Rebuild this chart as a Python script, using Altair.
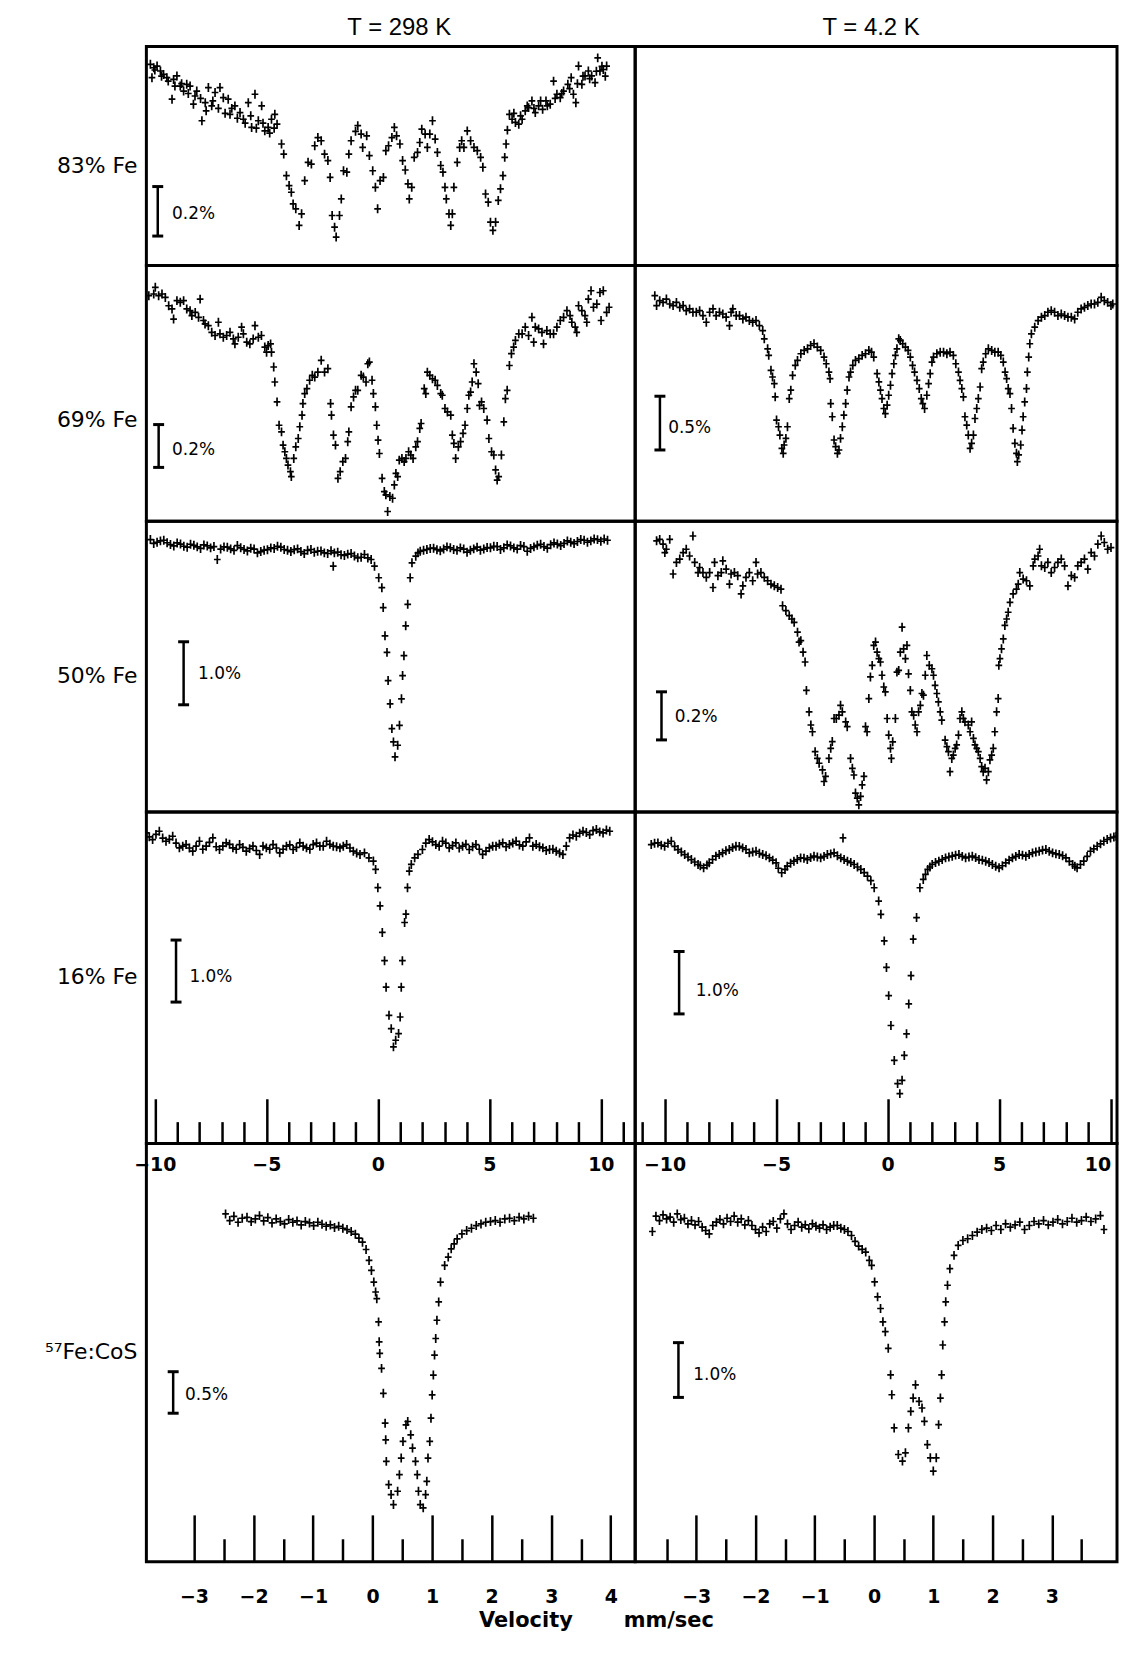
import altair as alt
import pandas as pd

# ---------------- layout (px) ----------------
LAB_W, L_W, R_W = 138, 491, 484
TITLE_H, BOT_H = 34, 70
ROW_H = [220, 257, 292, 333, 420]

# ---------------- velocity domains (mm/s) ----------------
XD_L = [-10.38, 11.54]
XD_R = [-11.32, 10.29]
XD5_L = [-3.80, 4.41]
XD5_R = [-4.03, 4.10]

# ---------------- spectra: (velocity mm/s, relative transmission change %) ----------------
S83_298 = [(-10.20,-0.072),(-10.05,-0.086),(-10.13,-0.126),(-9.90,-0.079),(-9.75,-0.099),(-9.61,-0.113),(-9.46,-0.126),(-9.23,-0.213),(-9.16,-0.133),(-9.01,-0.119),
(-8.86,-0.160),(-8.71,-0.180),(-8.57,-0.153),(-8.42,-0.160),(-8.27,-0.233),(-8.12,-0.180),(-7.89,-0.300),(-7.74,-0.227),(-7.60,-0.166),(-7.45,-0.240),
(-7.30,-0.186),(-7.08,-0.166),(-6.93,-0.207),(-6.71,-0.213),(-6.63,-0.274),(-6.41,-0.240),(-6.18,-0.267),(-6.03,-0.294),(-5.81,-0.227),(-5.66,-0.327),
(-5.51,-0.193),(-5.36,-0.300),(-5.21,-0.240),(-5.07,-0.341),(-4.92,-0.327),(-4.77,-0.294),(-4.62,-0.274),(-4.52,-0.314),(-4.32,-0.394),(-4.22,-0.435),
(-4.10,-0.522),(-3.98,-0.562),(-3.88,-0.589),(-3.80,-0.636),(-3.68,-0.656),(-3.53,-0.723),(-3.42,-0.676),(-3.28,-0.542),(-3.13,-0.468),(-2.98,-0.475),
(-2.83,-0.401),(-2.69,-0.368),(-2.54,-0.381),(-2.39,-0.435),(-2.24,-0.461),(-2.14,-0.529),(-2.05,-0.683),(-1.94,-0.730),(-1.87,-0.770),(-1.72,-0.683),
(-1.64,-0.616),(-1.54,-0.502),(-1.39,-0.508),(-1.30,-0.435),(-1.20,-0.381),(-1.00,-0.343),(-0.90,-0.320),(-0.75,-0.354),(-0.68,-0.408),(-0.50,-0.361),
(-0.38,-0.441),(-0.23,-0.502),(-0.11,-0.569),(-0.01,-0.656),(0.10,-0.542),(0.25,-0.529),(0.36,-0.421),(0.48,-0.401),(0.63,-0.368),(0.74,-0.327),
(0.84,-0.361),(0.99,-0.394),(1.11,-0.461),(1.23,-0.499),(1.35,-0.555),(1.41,-0.616),(1.52,-0.569),(1.63,-0.448),(1.78,-0.428),(1.88,-0.388),
(1.97,-0.334),(2.12,-0.354),(2.22,-0.408),(2.33,-0.354),(2.45,-0.300),(2.57,-0.374),(2.67,-0.428),(2.82,-0.481),(2.92,-0.508),(3.01,-0.569),
(3.07,-0.616),(3.19,-0.676),(3.27,-0.723),(3.34,-0.676),(3.41,-0.569),(3.56,-0.468),(3.67,-0.408),(3.76,-0.381),(3.86,-0.408),(4.01,-0.341),
(4.16,-0.381),(4.31,-0.408),(4.46,-0.421),(4.61,-0.448),(4.71,-0.488),(4.83,-0.596),(4.95,-0.629),(5.05,-0.710),(5.16,-0.743),(5.28,-0.710),
(5.40,-0.622),(5.50,-0.575),(5.61,-0.522),(5.69,-0.448),(5.75,-0.394),(5.81,-0.338),(5.90,-0.274),(6.02,-0.294),(6.17,-0.307),(6.32,-0.314),
(6.47,-0.294),(6.61,-0.260),(6.76,-0.247),(6.91,-0.220),(7.06,-0.267),(7.21,-0.240),(7.39,-0.254),(7.54,-0.220),(7.73,-0.233),(7.88,-0.140),
(8.03,-0.193),(8.18,-0.207),(8.33,-0.180),(8.52,-0.153),(8.67,-0.126),(8.77,-0.193),(8.88,-0.227),(9.00,-0.079),(9.15,-0.153),(9.29,-0.119),
(9.44,-0.099),(9.59,-0.119),(9.74,-0.146),(9.86,-0.046),(9.96,-0.099),(10.11,-0.093),(10.26,-0.079),
(-10.0,-0.095),(-9.7,-0.120),(-9.4,-0.140),(-9.1,-0.160),(-8.8,-0.150),(-8.5,-0.190),(-8.2,-0.200),(-7.95,-0.210),(-7.7,-0.260),(-7.4,-0.220),
(-7.15,-0.250),(-6.85,-0.270),(-6.55,-0.250),(-6.3,-0.290),(-5.95,-0.310),(-5.7,-0.280),(-5.45,-0.330),(-5.15,-0.310),(-4.85,-0.350),(-4.65,-0.330),
(6.1,-0.270),(6.4,-0.280),(6.7,-0.240),(7.0,-0.250),(7.3,-0.220),(7.6,-0.240),(7.95,-0.210),(8.25,-0.190),(8.6,-0.170),(8.95,-0.150),
(9.2,-0.120),(9.5,-0.130),(9.8,-0.100),(10.05,-0.080),(10.2,-0.120)]

S69_298 = [(-10.27,-0.141),(-10.05,-0.133),(-9.98,-0.102),(-9.83,-0.141),(-9.68,-0.133),(-9.53,-0.149),(-9.38,-0.188),(-9.23,-0.203),(-9.16,-0.250),(-9.01,-0.164),
(-8.86,-0.172),(-8.71,-0.164),(-8.57,-0.203),(-8.42,-0.211),(-8.34,-0.234),(-8.19,-0.219),(-8.04,-0.242),(-7.97,-0.157),(-7.82,-0.257),(-7.75,-0.273),
(-7.60,-0.281),(-7.45,-0.312),(-7.30,-0.327),(-7.15,-0.265),(-7.08,-0.319),(-6.93,-0.335),(-6.78,-0.327),(-6.63,-0.312),(-6.48,-0.343),(-6.41,-0.366),
(-6.26,-0.335),(-6.11,-0.288),(-6.03,-0.319),(-5.88,-0.358),(-5.74,-0.366),(-5.59,-0.343),(-5.51,-0.281),(-5.36,-0.335),(-5.22,-0.327),(-5.07,-0.381),
(-4.99,-0.405),(-4.92,-0.374),(-4.81,-0.366),(-4.77,-0.405),(-4.67,-0.474),(-4.62,-0.544),(-4.52,-0.637),(-4.43,-0.746),(-4.32,-0.777),(-4.25,-0.839),
(-4.17,-0.870),(-4.10,-0.901),(-4.03,-0.932),(-3.92,-0.963),(-3.88,-0.986),(-3.77,-0.901),(-3.68,-0.847),(-3.57,-0.808),(-3.50,-0.753),(-3.40,-0.699),
(-3.36,-0.645),(-3.28,-0.598),(-3.18,-0.575),(-3.06,-0.536),(-2.94,-0.513),(-2.83,-0.521),(-2.69,-0.498),(-2.54,-0.443),(-2.39,-0.498),(-2.24,-0.482),
(-2.12,-0.645),(-2.08,-0.699),(-1.99,-0.792),(-1.90,-0.839),(-1.79,-0.994),(-1.69,-0.963),(-1.57,-0.916),(-1.45,-0.901),(-1.35,-0.823),(-1.30,-0.777),
(-1.20,-0.660),(-1.09,-0.614),(-1.00,-0.583),(-0.90,-0.583),(-0.75,-0.513),(-0.65,-0.521),(-0.53,-0.544),(-0.45,-0.459),(-0.38,-0.451),(-0.26,-0.536),
(-0.20,-0.598),(-0.11,-0.660),(-0.05,-0.746),(0.01,-0.816),(0.07,-0.878),(0.19,-0.994),(0.29,-1.056),(0.36,-1.071),(0.44,-1.149),(0.54,-1.079),
(0.66,-1.087),(0.74,-1.025),(0.81,-0.971),(0.89,-0.986),(0.96,-0.909),(1.08,-0.901),(1.18,-0.916),(1.26,-0.901),(1.38,-0.870),(1.48,-0.885),
(1.58,-0.901),(1.70,-0.847),(1.78,-0.823),(1.88,-0.761),(1.94,-0.738),(2.08,-0.575),(2.15,-0.598),(2.22,-0.498),(2.33,-0.513),(2.45,-0.529),
(2.57,-0.536),(2.67,-0.560),(2.82,-0.598),(2.89,-0.606),(3.01,-0.668),(3.12,-0.684),(3.27,-0.699),(3.34,-0.792),(3.41,-0.831),(3.49,-0.901),
(3.61,-0.847),(3.71,-0.823),(3.82,-0.784),(3.91,-0.746),(4.01,-0.668),(4.08,-0.606),(4.16,-0.591),(4.23,-0.544),(4.31,-0.459),(4.41,-0.498),
(4.50,-0.552),(4.56,-0.653),(4.65,-0.637),(4.75,-0.668),(4.90,-0.722),(4.98,-0.808),(5.10,-0.870),(5.20,-0.885),(5.28,-0.955),(5.35,-1.002),
(5.42,-0.986),(5.54,-0.885),(5.65,-0.730),(5.72,-0.622),(5.80,-0.583),(5.90,-0.467),(5.99,-0.412),(6.09,-0.381),(6.17,-0.350),(6.32,-0.319),
(6.47,-0.319),(6.61,-0.288),(6.76,-0.327),(6.91,-0.242),(6.99,-0.358),(7.06,-0.288),(7.21,-0.296),(7.36,-0.312),(7.43,-0.366),(7.58,-0.304),
(7.73,-0.319),(7.88,-0.319),(8.03,-0.288),(8.18,-0.257),(8.33,-0.242),(8.48,-0.211),(8.62,-0.234),(8.70,-0.265),(8.85,-0.288),(8.92,-0.312),
(9.00,-0.188),(9.15,-0.211),(9.29,-0.234),(9.37,-0.265),(9.44,-0.157),(9.56,-0.118),(9.67,-0.195),(9.82,-0.180),(9.96,-0.126),(10.01,-0.257),
(10.11,-0.118),(10.26,-0.219),(10.37,-0.195)]

S69_4K = [(-10.44,-0.281),(-10.36,-0.373),(-10.22,-0.327),(-10.07,-0.343),(-9.92,-0.312),(-9.77,-0.358),(-9.62,-0.373),(-9.47,-0.343),(-9.32,-0.389),(-9.17,-0.373),
(-9.03,-0.420),(-8.88,-0.404),(-8.73,-0.435),(-8.58,-0.435),(-8.43,-0.420),(-8.28,-0.466),(-8.13,-0.528),(-7.98,-0.435),(-7.83,-0.404),(-7.69,-0.466),
(-7.54,-0.435),(-7.39,-0.451),(-7.24,-0.481),(-7.09,-0.559),(-7.02,-0.435),(-6.94,-0.404),(-6.79,-0.466),(-6.64,-0.466),(-6.49,-0.497),(-6.35,-0.481),
(-6.20,-0.512),(-6.05,-0.528),(-5.90,-0.512),(-5.75,-0.559),(-5.60,-0.605),(-5.53,-0.682),(-5.38,-0.775),(-5.33,-0.836),(-5.23,-0.975),(-5.16,-1.037),
(-5.08,-1.099),(-5.04,-1.222),(-4.98,-1.438),(-4.89,-1.500),(-4.83,-1.577),(-4.74,-1.701),(-4.68,-1.747),(-4.64,-1.670),(-4.56,-1.608),(-4.49,-1.500),
(-4.41,-1.238),(-4.34,-1.160),(-4.26,-1.022),(-4.14,-0.929),(-4.04,-0.883),(-3.89,-0.821),(-3.74,-0.790),(-3.59,-0.775),(-3.45,-0.744),(-3.30,-0.728),
(-3.15,-0.759),(-3.00,-0.790),(-2.85,-0.852),(-2.75,-0.914),(-2.63,-0.991),(-2.58,-1.052),(-2.55,-1.284),(-2.48,-1.407),(-2.40,-1.623),(-2.33,-1.685),
(-2.25,-1.747),(-2.18,-1.716),(-2.11,-1.608),(-2.03,-1.500),(-1.96,-1.392),(-1.88,-1.284),(-1.81,-1.160),(-1.73,-1.037),(-1.66,-0.991),(-1.56,-0.929),
(-1.44,-0.883),(-1.29,-0.867),(-1.14,-0.836),(-0.99,-0.821),(-0.84,-0.790),(-0.72,-0.806),(-0.62,-0.852),(-0.47,-1.006),(-0.39,-1.083),(-0.32,-1.160),
(-0.25,-1.238),(-0.17,-1.330),(-0.10,-1.377),(-0.02,-1.299),(0.05,-1.207),(0.13,-1.114),(0.20,-1.006),(0.28,-0.914),(0.35,-0.836),(0.42,-0.775),
(0.50,-0.682),(0.57,-0.698),(0.68,-0.728),(0.80,-0.759),(0.92,-0.790),(1.02,-0.852),(1.12,-0.929),(1.21,-0.991),(1.32,-1.068),(1.42,-1.145),
(1.51,-1.238),(1.58,-1.284),(1.66,-1.330),(1.76,-1.207),(1.84,-1.099),(1.91,-1.006),(1.99,-0.898),(2.06,-0.852),(2.21,-0.821),(2.36,-0.806),
(2.51,-0.806),(2.66,-0.821),(2.80,-0.806),(2.95,-0.836),(3.06,-0.914),(3.18,-0.991),(3.25,-1.068),(3.33,-1.145),(3.40,-1.222),(3.47,-1.407),
(3.55,-1.485),(3.62,-1.577),(3.70,-1.701),(3.77,-1.654),(3.85,-1.577),(3.92,-1.423),(4.00,-1.330),(4.07,-1.238),(4.15,-1.130),(4.22,-0.960),
(4.29,-0.898),(4.40,-0.821),(4.52,-0.775),(4.67,-0.790),(4.81,-0.806),(4.96,-0.806),(5.08,-0.836),(5.19,-0.898),(5.27,-0.991),(5.34,-1.052),
(5.41,-1.145),(5.49,-1.191),(5.56,-1.330),(5.63,-1.515),(5.71,-1.654),(5.78,-1.747),(5.82,-1.824),(5.88,-1.762),(5.97,-1.670),(6.03,-1.531),
(6.08,-1.407),(6.15,-1.269),(6.23,-1.145),(6.27,-0.991),(6.33,-0.852),(6.38,-0.728),(6.45,-0.636),(6.60,-0.574),(6.75,-0.512),(6.90,-0.481),
(7.05,-0.466),(7.19,-0.435),(7.34,-0.420),(7.49,-0.435),(7.64,-0.466),(7.79,-0.451),(7.94,-0.466),(8.09,-0.481),(8.24,-0.481),(8.39,-0.497),
(8.53,-0.435),(8.68,-0.404),(8.83,-0.389),(8.98,-0.373),(9.13,-0.358),(9.28,-0.358),(9.43,-0.343),(9.58,-0.296),(9.72,-0.327),(9.87,-0.343),
(10.02,-0.373),(10.10,-0.358)]

S50_298 = [(-10.2,-0.289),(-9.9,-0.332),(-9.6,-0.300),(-9.3,-0.368),(-9.0,-0.342),(-8.7,-0.395),(-8.4,-0.363),(-8.1,-0.405),(-7.8,-0.374),(-7.5,-0.421),
(-7.2,-0.605),(-6.9,-0.405),(-6.6,-0.437),(-6.3,-0.384),(-6.0,-0.447),(-5.7,-0.426),(-5.4,-0.500),(-5.1,-0.458),(-4.8,-0.421),(-4.5,-0.395),
(-4.2,-0.447),(-3.9,-0.479),(-3.6,-0.437),(-3.3,-0.511),(-3.0,-0.447),(-2.7,-0.474),(-2.4,-0.500),(-2.1,-0.468),(-2.0,-0.711),(-1.8,-0.489),
(-1.5,-0.542),(-1.2,-0.511),(-0.9,-0.579),(-0.6,-0.526),(-0.3,-0.605),(-0.15,-0.711),(0.04,-0.895),(0.18,-1.053),(0.24,-1.368),(0.32,-1.816),
(0.41,-2.079),(0.46,-2.526),(0.55,-2.895),(0.63,-3.289),(0.70,-3.500),(0.77,-3.737),(0.89,-3.553),(0.97,-3.237),(1.06,-2.816),(1.11,-2.447),
(1.17,-2.132),(1.25,-1.658),(1.34,-1.316),(1.45,-0.895),(1.53,-0.658),(1.7,-0.553),(1.9,-0.474),(2.2,-0.447),(2.5,-0.426),(2.8,-0.468),
(3.1,-0.405),(3.4,-0.447),(3.7,-0.421),(4.0,-0.489),(4.3,-0.437),(4.6,-0.458),(4.9,-0.416),(5.2,-0.395),(5.5,-0.447),(5.8,-0.374),
(6.1,-0.421),(6.4,-0.384),(6.7,-0.474),(7.0,-0.405),(7.3,-0.363),(7.6,-0.426),(7.9,-0.342),(8.2,-0.384),(8.5,-0.311),(8.8,-0.353),
(9.1,-0.289),(9.4,-0.332),(9.7,-0.279),(10.0,-0.316),(10.3,-0.300),
(-10.05,-0.35),(-9.75,-0.31),(-9.45,-0.34),(-9.15,-0.39),(-8.85,-0.36),(-8.55,-0.41),(-8.25,-0.38),(-7.95,-0.43),(-7.65,-0.39),(-7.35,-0.40),
(-7.05,-0.44),(-6.75,-0.41),(-6.45,-0.46),(-6.15,-0.42),(-5.85,-0.47),(-5.55,-0.44),(-5.25,-0.48),(-4.95,-0.45),(-4.65,-0.43),(-4.35,-0.41),
(-4.05,-0.46),(-3.75,-0.45),(-3.45,-0.48),(-3.15,-0.46),(-2.85,-0.49),(-2.55,-0.47),(-2.25,-0.51),(-1.95,-0.50),(-1.65,-0.53),(-1.35,-0.52),
(-1.05,-0.55),(-0.75,-0.57),(-0.45,-0.58),
(1.8,-0.50),(2.05,-0.46),(2.35,-0.43),(2.65,-0.45),(2.95,-0.44),(3.25,-0.42),(3.55,-0.46),(3.85,-0.44),(4.15,-0.46),(4.45,-0.41),
(4.75,-0.44),(5.05,-0.42),(5.35,-0.40),(5.65,-0.42),(5.95,-0.39),(6.25,-0.44),(6.55,-0.40),(6.85,-0.43),(7.15,-0.38),(7.45,-0.40),
(7.75,-0.37),(8.05,-0.36),(8.35,-0.35),(8.65,-0.33),(8.95,-0.32),(9.25,-0.30),(9.55,-0.31),(9.85,-0.29),(10.15,-0.28)]

S50_4K = [(-10.36,-0.081),(-10.22,-0.075),(-10.07,-0.095),(-9.99,-0.130),(-9.92,-0.116),(-9.77,-0.075),(-9.62,-0.219),(-9.47,-0.171),(-9.32,-0.157),(-9.17,-0.130),
(-9.03,-0.116),(-8.88,-0.144),(-8.73,-0.061),(-8.65,-0.171),(-8.50,-0.213),(-8.43,-0.192),(-8.28,-0.213),(-8.13,-0.233),(-7.98,-0.213),(-7.83,-0.275),
(-7.76,-0.171),(-7.61,-0.226),(-7.46,-0.213),(-7.39,-0.164),(-7.24,-0.199),(-7.09,-0.261),(-7.02,-0.219),(-6.87,-0.213),(-6.72,-0.226),(-6.57,-0.302),
(-6.49,-0.268),(-6.35,-0.233),(-6.20,-0.213),(-6.05,-0.247),(-5.90,-0.171),(-5.83,-0.219),(-5.68,-0.213),(-5.53,-0.233),(-5.38,-0.247),(-5.23,-0.261),
(-5.08,-0.268),(-4.93,-0.275),(-4.78,-0.282),(-4.71,-0.351),(-4.56,-0.371),(-4.41,-0.392),(-4.29,-0.406),(-4.19,-0.420),(-4.04,-0.461),(-3.97,-0.502),
(-3.89,-0.496),(-3.79,-0.544),(-3.70,-0.585),(-3.64,-0.703),(-3.52,-0.792),(-3.44,-0.847),(-3.37,-0.875),(-3.25,-0.958),(-3.15,-0.986),(-3.07,-1.006),
(-2.92,-1.034),(-2.85,-1.082),(-2.78,-1.061),(-2.63,-0.986),(-2.55,-0.944),(-2.48,-0.916),(-2.40,-0.820),(-2.30,-0.820),(-2.18,-0.806),(-2.11,-0.765),
(-2.03,-0.792),(-1.88,-0.834),(-1.81,-0.854),(-1.66,-0.986),(-1.58,-1.027),(-1.51,-1.055),(-1.44,-1.130),(-1.36,-1.151),(-1.29,-1.179),(-1.21,-1.144),
(-1.14,-1.096),(-1.06,-1.061),(-0.99,-0.854),(-0.92,-0.875),(-0.84,-0.737),(-0.77,-0.647),(-0.69,-0.599),(-0.62,-0.516),(-0.54,-0.502),(-0.47,-0.544),
(-0.39,-0.571),(-0.32,-0.585),(-0.25,-0.640),(-0.17,-0.689),(-0.10,-0.709),(-0.02,-0.820),(0.05,-0.889),(0.13,-0.944),(0.17,-0.986),(0.23,-0.917),
(0.35,-0.820),(0.42,-0.627),(0.50,-0.620),(0.57,-0.544),(0.65,-0.440),(0.72,-0.530),(0.80,-0.571),(0.87,-0.516),(0.94,-0.634),(1.02,-0.703),
(1.09,-0.792),(1.17,-0.806),(1.24,-0.847),(1.32,-0.875),(1.39,-0.792),(1.47,-0.765),(1.54,-0.716),(1.61,-0.723),(1.69,-0.640),(1.76,-0.558),
(1.87,-0.599),(1.99,-0.613),(2.06,-0.640),(2.13,-0.682),(2.21,-0.716),(2.28,-0.751),(2.36,-0.792),(2.43,-0.827),(2.58,-0.910),(2.66,-0.937),
(2.73,-0.958),(2.80,-1.041),(2.88,-0.986),(2.95,-0.972),(3.03,-0.944),(3.10,-0.930),(3.18,-0.889),(3.25,-0.820),(3.33,-0.792),(3.40,-0.820),
(3.47,-0.834),(3.62,-0.847),(3.70,-0.875),(3.77,-0.834),(3.85,-0.903),(3.92,-0.930),(4.00,-0.944),(4.07,-0.958),(4.15,-0.986),(4.22,-1.020),
(4.29,-1.041),(4.37,-1.027),(4.44,-1.075),(4.52,-1.041),(4.59,-0.992),(4.67,-0.972),(4.74,-0.944),(4.81,-0.875),(4.89,-0.792),(4.96,-0.737),
(4.99,-0.599),(5.04,-0.571),(5.11,-0.530),(5.19,-0.489),(5.26,-0.433),(5.34,-0.406),(5.41,-0.378),(5.49,-0.337),(5.63,-0.302),(5.78,-0.282),
(5.86,-0.261),(5.93,-0.213),(6.08,-0.240),(6.23,-0.247),(6.38,-0.268),(6.53,-0.185),(6.60,-0.157),(6.75,-0.144),(6.82,-0.116),(6.90,-0.185),
(7.05,-0.192),(7.19,-0.171),(7.34,-0.213),(7.49,-0.192),(7.64,-0.171),(7.79,-0.157),(7.94,-0.185),(8.09,-0.268),(8.24,-0.226),(8.39,-0.233),
(8.53,-0.185),(8.68,-0.171),(8.83,-0.157),(8.98,-0.199),(9.13,-0.130),(9.28,-0.144),(9.43,-0.095),(9.58,-0.061),(9.72,-0.088),(9.87,-0.116),
(10.02,-0.109)]

S16_298 = [(-10.4,-0.337),(-10.1,-0.444),(-9.8,-0.310),(-9.5,-0.471),(-9.2,-0.390),(-8.9,-0.578),(-8.6,-0.524),(-8.3,-0.631),(-8.0,-0.471),(-7.7,-0.551),
(-7.4,-0.417),(-7.1,-0.604),(-6.8,-0.497),(-6.5,-0.578),(-6.2,-0.524),(-5.9,-0.631),(-5.6,-0.551),(-5.3,-0.684),(-5.0,-0.578),(-4.7,-0.524),
(-4.4,-0.658),(-4.1,-0.551),(-3.8,-0.604),(-3.5,-0.497),(-3.2,-0.578),(-2.9,-0.524),(-2.6,-0.551),(-2.3,-0.471),(-2.0,-0.551),(-1.7,-0.578),
(-1.4,-0.524),(-1.1,-0.631),(-0.8,-0.684),(-0.6,-0.658),(-0.4,-0.738),(-0.2,-0.791),(-0.1,-0.925),(0.0,-1.219),(0.1,-1.513),(0.2,-1.941),
(0.3,-2.396),(0.37,-2.824),(0.5,-3.278),(0.6,-3.492),(0.7,-3.786),(0.8,-3.679),(0.93,-3.572),(1.0,-3.305),(1.05,-2.824),(1.1,-2.396),
(1.2,-1.781),(1.26,-1.647),(1.33,-1.219),(1.41,-0.952),(1.5,-0.845),(1.65,-0.738),(1.8,-0.684),(2.0,-0.604),(2.3,-0.444),(2.6,-0.524),
(2.9,-0.471),(3.2,-0.578),(3.5,-0.497),(3.8,-0.551),(4.1,-0.604),(4.4,-0.524),(4.7,-0.684),(5.0,-0.578),(5.3,-0.551),(5.6,-0.497),
(5.9,-0.524),(6.2,-0.471),(6.5,-0.551),(6.8,-0.417),(7.1,-0.524),(7.4,-0.578),(7.7,-0.604),(8.0,-0.631),(8.3,-0.684),(8.6,-0.417),
(8.9,-0.390),(9.2,-0.310),(9.5,-0.364),(9.8,-0.283),(10.1,-0.337),(10.4,-0.310),
(-10.25,-0.40),(-9.95,-0.36),(-9.65,-0.42),(-9.35,-0.44),(-9.05,-0.50),(-8.75,-0.55),(-8.45,-0.58),(-8.15,-0.55),(-7.85,-0.60),(-7.55,-0.49),
(-7.25,-0.56),(-6.95,-0.55),(-6.65,-0.52),(-6.35,-0.60),(-6.05,-0.57),(-5.75,-0.59),(-5.45,-0.62),(-5.15,-0.55),(-4.85,-0.60),(-4.55,-0.58),
(-4.25,-0.60),(-3.95,-0.53),(-3.65,-0.57),(-3.35,-0.55),(-3.05,-0.60),(-2.75,-0.50),(-2.45,-0.55),(-2.15,-0.52),(-1.85,-0.56),(-1.55,-0.55),
(-1.25,-0.58),(-0.95,-0.66),
(2.15,-0.50),(2.45,-0.48),(2.75,-0.55),(3.05,-0.50),(3.35,-0.54),(3.65,-0.58),(3.95,-0.52),(4.25,-0.56),(4.55,-0.60),(4.85,-0.63),
(5.15,-0.55),(5.45,-0.52),(5.75,-0.56),(6.05,-0.50),(6.35,-0.53),(6.65,-0.48),(6.95,-0.55),(7.25,-0.56),(7.55,-0.62),(7.85,-0.60),
(8.15,-0.66),(8.45,-0.55),(8.75,-0.37),(9.05,-0.34),(9.35,-0.33),(9.65,-0.30),(9.95,-0.32),(10.25,-0.29)]

S16_4K = [(-10.6,-0.521),(-10.3,-0.495),(-10.0,-0.548),(-9.7,-0.468),(-9.4,-0.601),(-9.1,-0.681),(-8.8,-0.761),(-8.5,-0.840),(-8.25,-0.894),(-8.0,-0.814),
(-7.7,-0.707),(-7.4,-0.654),(-7.1,-0.601),(-6.8,-0.548),(-6.5,-0.574),(-6.2,-0.654),(-5.9,-0.628),(-5.6,-0.681),(-5.3,-0.734),(-5.0,-0.814),
(-4.75,-0.973),(-4.5,-0.867),(-4.2,-0.787),(-3.9,-0.734),(-3.6,-0.761),(-3.3,-0.707),(-3.0,-0.734),(-2.7,-0.681),(-2.4,-0.654),(-2.1,-0.734),
(-2.0,-0.415),(-1.8,-0.787),(-1.5,-0.840),(-1.2,-0.920),(-0.9,-1.027),(-0.6,-1.213),(-0.4,-1.426),(-0.3,-1.638),(-0.15,-2.064),(-0.05,-2.489),
(0.05,-2.941),(0.15,-3.420),(0.3,-3.979),(0.45,-4.351),(0.55,-4.511),(0.65,-4.298),(0.75,-3.899),(0.85,-3.553),(0.95,-3.074),(1.05,-2.622),
(1.15,-2.037),(1.3,-1.691),(1.45,-1.213),(1.6,-1.080),(1.8,-0.920),(2.0,-0.840),(2.3,-0.787),(2.6,-0.734),(2.9,-0.707),(3.2,-0.681),
(3.5,-0.734),(3.8,-0.707),(4.1,-0.761),(4.4,-0.787),(4.7,-0.840),(5.0,-0.894),(5.3,-0.814),(5.6,-0.734),(5.9,-0.681),(6.2,-0.707),
(6.5,-0.654),(6.8,-0.628),(7.1,-0.601),(7.4,-0.654),(7.7,-0.681),(8.0,-0.734),(8.3,-0.840),(8.5,-0.894),(8.8,-0.787),(9.1,-0.628),
(9.4,-0.548),(9.7,-0.468),(10.0,-0.415),(10.25,-0.388),
(-10.45,-0.50),(-10.15,-0.53),(-9.85,-0.50),(-9.55,-0.55),(-9.25,-0.64),(-8.95,-0.72),(-8.65,-0.80),(-8.4,-0.86),(-8.1,-0.85),(-7.85,-0.76),
(-7.55,-0.68),(-7.25,-0.62),(-6.95,-0.57),(-6.65,-0.55),(-6.35,-0.60),(-6.05,-0.64),(-5.75,-0.66),(-5.45,-0.70),(-5.15,-0.77),(-4.9,-0.90),
(-4.6,-0.92),(-4.35,-0.82),(-4.05,-0.76),(-3.75,-0.74),(-3.45,-0.73),(-3.15,-0.72),(-2.85,-0.71),(-2.55,-0.67),(-2.25,-0.70),(-1.95,-0.76),
(-1.65,-0.81),(-1.35,-0.88),(-1.05,-0.97),(-0.75,-1.10),
(1.7,-1.00),(1.9,-0.88),(2.15,-0.81),(2.45,-0.76),(2.75,-0.72),(3.05,-0.69),(3.35,-0.71),(3.65,-0.72),(3.95,-0.73),(4.25,-0.77),
(4.55,-0.81),(4.85,-0.87),(5.15,-0.86),(5.45,-0.77),(5.75,-0.71),(6.05,-0.69),(6.35,-0.68),(6.65,-0.64),(6.95,-0.61),(7.25,-0.63),
(7.55,-0.67),(7.85,-0.70),(8.15,-0.79),(8.4,-0.87),(8.65,-0.84),(8.95,-0.71),(9.25,-0.59),(9.55,-0.51),(9.85,-0.44),(10.15,-0.40)]

SCOS_298 = [(-2.47,-0.848),(-2.40,-0.928),(-2.33,-0.876),(-2.26,-0.948),(-2.19,-0.900),(-2.11,-0.888),(-2.04,-0.940),(-1.97,-0.908),(-1.90,-0.868),(-1.83,-0.932),
(-1.76,-0.892),(-1.69,-0.956),(-1.62,-0.908),(-1.55,-0.940),(-1.48,-0.968),(-1.41,-0.916),(-1.34,-0.948),(-1.27,-0.932),(-1.20,-0.980),(-1.13,-0.940),
(-1.06,-0.956),(-0.99,-0.988),(-0.92,-0.948),(-0.85,-0.972),(-0.78,-0.996),(-0.71,-0.980),(-0.64,-1.012),(-0.57,-0.996),(-0.50,-1.020),(-0.43,-1.036),
(-0.36,-1.060),(-0.29,-1.092),(-0.23,-1.140),(-0.17,-1.188),(-0.11,-1.276),(-0.06,-1.408),(-0.02,-1.528),(0.02,-1.668),(0.05,-1.788),(0.07,-1.868),
(0.10,-2.148),(0.11,-2.388),(0.12,-2.528),(0.15,-2.708),(0.18,-3.008),(0.21,-3.368),(0.22,-3.568),(0.23,-3.828),(0.27,-4.108),(0.31,-4.228),
(0.35,-4.348),(0.42,-4.188),(0.45,-3.988),(0.48,-3.788),(0.51,-3.588),(0.56,-3.388),(0.59,-3.348),(0.64,-3.508),(0.67,-3.668),(0.72,-3.828),
(0.75,-3.988),(0.77,-4.188),(0.80,-4.348),(0.85,-4.388),(0.89,-4.228),(0.91,-4.068),(0.93,-3.788),(0.96,-3.588),(0.98,-3.308),(1.00,-3.028),
(1.02,-2.788),(1.04,-2.548),(1.06,-2.348),(1.08,-2.128),(1.11,-1.908),(1.14,-1.668),(1.21,-1.468),(1.27,-1.368),(1.32,-1.268),(1.37,-1.208),
(1.42,-1.148),(1.50,-1.088),(1.58,-1.048),(1.66,-1.020),(1.74,-0.988),(1.82,-0.968),(1.90,-0.948),(1.98,-0.940),(2.06,-0.928),(2.14,-0.948),
(2.22,-0.908),(2.30,-0.900),(2.38,-0.928),(2.46,-0.888),(2.54,-0.908),(2.62,-0.876),(2.70,-0.900)]

SCOS_4K = [(-3.74,-1.606),(-3.68,-1.327),(-3.62,-1.406),(-3.56,-1.303),(-3.50,-1.376),(-3.44,-1.345),(-3.38,-1.436),(-3.32,-1.285),(-3.26,-1.388),(-3.20,-1.364),
(-3.14,-1.467),(-3.08,-1.406),(-3.02,-1.485),(-2.96,-1.424),(-2.90,-1.527),(-2.84,-1.588),(-2.78,-1.648),(-2.72,-1.497),(-2.66,-1.436),(-2.60,-1.388),
(-2.54,-1.467),(-2.48,-1.364),(-2.42,-1.424),(-2.36,-1.327),(-2.30,-1.436),(-2.24,-1.376),(-2.18,-1.485),(-2.12,-1.406),(-2.06,-1.497),(-2.00,-1.570),
(-1.94,-1.630),(-1.88,-1.527),(-1.82,-1.606),(-1.76,-1.467),(-1.70,-1.424),(-1.64,-1.545),(-1.58,-1.376),(-1.52,-1.285),(-1.46,-1.467),(-1.40,-1.570),
(-1.34,-1.497),(-1.28,-1.436),(-1.22,-1.527),(-1.16,-1.485),(-1.10,-1.558),(-1.04,-1.467),(-0.98,-1.509),(-0.92,-1.545),(-0.86,-1.485),(-0.80,-1.570),
(-0.74,-1.527),(-0.68,-1.497),(-0.62,-1.497),(-0.56,-1.545),(-0.50,-1.570),(-0.44,-1.606),(-0.38,-1.679),(-0.32,-1.788),(-0.26,-1.873),(-0.20,-1.933),
(-0.14,-1.982),(-0.08,-2.133),(-0.04,-2.224),(0.01,-2.527),(0.06,-2.800),(0.11,-3.012),(0.15,-3.255),(0.19,-3.436),(0.24,-3.739),(0.28,-4.224),
(0.30,-4.588),(0.34,-5.194),(0.41,-5.679),(0.48,-5.800),(0.53,-5.648),(0.58,-5.194),(0.62,-4.891),(0.66,-4.648),(0.70,-4.406),(0.76,-4.709),
(0.81,-4.830),(0.85,-5.073),(0.90,-5.497),(0.95,-5.739),(1.00,-5.982),(1.05,-5.739),(1.09,-5.133),(1.12,-4.648),(1.14,-4.224),(1.16,-3.679),
(1.19,-3.255),(1.21,-2.891),(1.24,-2.588),(1.28,-2.285),(1.35,-2.042),(1.42,-1.861),(1.50,-1.770),(1.58,-1.739),(1.66,-1.679),(1.74,-1.618),
(1.82,-1.570),(1.90,-1.545),(1.98,-1.588),(2.06,-1.497),(2.14,-1.570),(2.22,-1.467),(2.30,-1.527),(2.38,-1.485),(2.46,-1.436),(2.54,-1.570),
(2.62,-1.497),(2.70,-1.424),(2.78,-1.467),(2.86,-1.406),(2.94,-1.485),(3.02,-1.436),(3.10,-1.388),(3.18,-1.467),(3.26,-1.424),(3.34,-1.364),
(3.42,-1.436),(3.50,-1.406),(3.58,-1.345),(3.66,-1.424),(3.74,-1.376),(3.82,-1.315),(3.88,-1.570)]

# scale bars: (velocity, top, bottom, label velocity, label level, label)
BAR_83_298 = (-9.87, -0.566, -0.766, -9.23, -0.675, "0.2%")
BAR_69_298 = (-9.83, -0.743, -0.943, -9.23, -0.862, "0.2%")
BAR_69_4K = (-10.21, -1.216, -1.716, -9.84, -1.516, "0.5%")
BAR_50_298 = (-8.71, -1.911, -2.911, -8.06, -2.421, "1.0%")
BAR_50_4K = (-10.14, -0.709, -0.909, -9.55, -0.813, "0.2%")
BAR_16_298 = (-9.05, -2.064, -3.064, -8.45, -2.663, "1.0%")
BAR_16_4K = (-9.35, -2.234, -3.234, -8.60, -2.862, "1.0%")
BAR_COS_298 = (-3.35, -2.748, -3.248, -3.15, -3.028, "0.5%")
BAR_COS_4K = (-3.30, -3.636, -4.636, -3.05, -4.224, "1.0%")

# y domains (% transmission change) per panel
YD = {
    "83_298": [-0.885, 0], "69_298": [-1.195, 0], "69_4K": [-2.380, 0],
    "50_298": [-4.613, 0], "50_4K": [-1.209, 0],
    "16_298": [-5.345, 0], "16_4K": [-5.311, 0],
    "COS_298": [-5.036, 0], "COS_4K": [-7.636, 0],
}

# velocity axis ticks / labels
MAJ4 = [-10, -5, 0, 5, 10]
MIN4_L = [-9, -8, -7, -6, -4, -3, -2, -1, 1, 2, 3, 4, 6, 7, 8, 9, 11]
MIN4_R = [-11, -9, -8, -7, -6, -4, -3, -2, -1, 1, 2, 3, 4, 6, 7, 8, 9]
MAJ5_L = [-3, -2, -1, 0, 1, 2, 3, 4]
MIN5_L = [-2.5, -1.5, -0.5, 0.5, 1.5, 2.5, 3.5]
MAJ5_R = [-3, -2, -1, 0, 1, 2, 3]
MIN5_R = [-3.5, -2.5, -1.5, -0.5, 0.5, 1.5, 2.5, 3.5]

ROW_LABELS = ["83% Fe", "69% Fe", "50% Fe", "16% Fe", "\u2075\u2077Fe:CoS"]
COL_TITLES = ["T = 298 K", "T = 4.2 K"]
X_TITLE = "Velocity" + "\u00a0" * 7 + "mm/sec"

# ---------------- styling ----------------
CROSS = "M-0.75,0L0.75,0M0,-1L0,1"
SANS = "DejaVu Sans"
TITLE_FONT = "Liberation Sans Narrow, Liberation Sans, sans-serif"
FRAME = alt.ViewBackground(stroke="black", strokeWidth=3)
NOFRAME = alt.ViewBackground(stroke="transparent")


def label_axis(values, pad, flush=False):
    return alt.Axis(orient="bottom", values=values, format="d", ticks=False, tickSize=0,
                    domain=False, grid=False, labels=True, labelPadding=pad,
                    labelFont=SANS, labelFontSize=19, labelFontWeight="bold",
                    labelColor="black", labelFlush=flush, labelOverlap=False,
                    labelBound=False, title=None)


def tick_axis(values, size, h):
    return alt.Axis(orient="top", offset=-h, values=values, ticks=True, tickSize=size,
                    tickWidth=2.5, tickColor="black", labels=False, domain=False,
                    grid=False, title=None)


def panel(pairs, xdom, ydom, w, h, bar, ticks=None, lab=None):
    xs = alt.Scale(domain=xdom, nice=False, zero=False)
    ys = alt.Scale(domain=ydom, nice=False, zero=False)
    df = pd.DataFrame(pairs, columns=["v", "t"])
    layers = [alt.Chart(df).mark_point(shape=CROSS, filled=False, size=81, strokeWidth=1.7,
                                       color="black", opacity=1, clip=True).encode(
        x=alt.X("v:Q", scale=xs, axis=lab if lab is not None else None),
        y=alt.Y("t:Q", scale=ys, axis=None))]
    bv, btop, bbot, lv, ly, ltxt = bar
    bdf = pd.DataFrame({"v": [bv], "top": [btop], "bot": [bbot]})
    layers.append(alt.Chart(bdf).mark_rule(color="black", strokeWidth=2.5).encode(
        x=alt.X("v:Q", scale=xs, axis=None), y=alt.Y("top:Q", scale=ys, axis=None), y2="bot:Q"))
    cdf = pd.DataFrame({"v": [bv, bv], "t": [btop, bbot]})
    layers.append(alt.Chart(cdf).mark_point(shape="M-1,0L1,0", filled=False, size=121,
                                            strokeWidth=3, color="black", opacity=1).encode(
        x=alt.X("v:Q", scale=xs, axis=None), y=alt.Y("t:Q", scale=ys, axis=None)))
    tdf = pd.DataFrame({"v": [lv], "t": [ly], "s": [ltxt]})
    layers.append(alt.Chart(tdf).mark_text(align="left", baseline="middle", font=SANS,
                                           fontSize=17, color="black").encode(
        x=alt.X("v:Q", scale=xs, axis=None), y=alt.Y("t:Q", scale=ys, axis=None), text="s:N"))
    if ticks:
        for vals, size in ticks:
            kdf = pd.DataFrame({"v": vals, "t": [ydom[1]] * len(vals)})
            layers.append(alt.Chart(kdf).mark_point(opacity=0).encode(
                x=alt.X("v:Q", scale=xs, axis=tick_axis(vals, size, h)),
                y=alt.Y("t:Q", scale=ys, axis=None)))
    ch = alt.layer(*layers)
    if ticks or lab is not None:
        ch = ch.resolve_axis(x="independent")
    return ch.properties(width=w, height=h, view=FRAME)


def empty_panel(w, h):
    df = pd.DataFrame({"v": [0.0], "t": [0.0]})
    return alt.Chart(df).mark_point(opacity=0).encode(
        x=alt.X("v:Q", axis=None), y=alt.Y("t:Q", axis=None)).properties(width=w, height=h, view=FRAME)


def text_cell(w, h, s, x, y, align, size, weight, font):
    d = pd.DataFrame({"s": [s]})
    return alt.Chart(d).mark_text(align=align, baseline="alphabetic", font=font, fontSize=size,
                                  fontWeight=weight, color="black").encode(
        text="s:N", x=alt.value(x), y=alt.value(y)).properties(width=w, height=h, view=NOFRAME)


def blank_cell(w, h):
    return text_cell(w, h, "", w / 2, h / 2, "center", 10, "normal", SANS)


LABEL_Y = [127.5, 162.5, 162, 172.5, 216.5]

cells = []
cells.append(blank_cell(LAB_W, TITLE_H))
cells.append(text_cell(L_W, TITLE_H, COL_TITLES[0], 254, 22, "center", 24, "normal", TITLE_FONT))
cells.append(text_cell(R_W, TITLE_H, COL_TITLES[1], 237, 22, "center", 24, "normal", TITLE_FONT))


def row_label(i):
    return text_cell(LAB_W, ROW_H[i], ROW_LABELS[i], 129, LABEL_Y[i], "right", 22, "normal", SANS)


cells += [row_label(0),
          panel(S83_298, XD_L, YD["83_298"], L_W, ROW_H[0], BAR_83_298),
          empty_panel(R_W, ROW_H[0])]
cells += [row_label(1),
          panel(S69_298, XD_L, YD["69_298"], L_W, ROW_H[1], BAR_69_298),
          panel(S69_4K, XD_R, YD["69_4K"], R_W, ROW_H[1], BAR_69_4K)]
cells += [row_label(2),
          panel(S50_298, XD_L, YD["50_298"], L_W, ROW_H[2], BAR_50_298),
          panel(S50_4K, XD_R, YD["50_4K"], R_W, ROW_H[2], BAR_50_4K)]
cells += [row_label(3),
          panel(S16_298, XD_L, YD["16_298"], L_W, ROW_H[3], BAR_16_298,
                ticks=[(MAJ4, 45), (MIN4_L, 22)], lab=label_axis(MAJ4, 12)),
          panel(S16_4K, XD_R, YD["16_4K"], R_W, ROW_H[3], BAR_16_4K,
                ticks=[(MAJ4, 45), (MIN4_R, 22)], lab=label_axis(MAJ4, 12, 8))]
cells += [row_label(4),
          panel(SCOS_298, XD5_L, YD["COS_298"], L_W, ROW_H[4], BAR_COS_298,
                ticks=[(MAJ5_L, 47), (MIN5_L, 23)], lab=label_axis(MAJ5_L, 26)),
          panel(SCOS_4K, XD5_R, YD["COS_4K"], R_W, ROW_H[4], BAR_COS_4K,
                ticks=[(MAJ5_R, 47), (MIN5_R, 23)], lab=label_axis(MAJ5_R, 26))]
cells.append(blank_cell(LAB_W, BOT_H))
cells.append(text_cell(L_W, BOT_H, X_TITLE, 452, 66, "center", 21, "bold", SANS))
cells.append(blank_cell(R_W, BOT_H))

chart = alt.concat(*cells, columns=3, spacing=0, bounds="flush", padding=0).configure_view(
    stroke="transparent")

chart.save("out.html", embed_options={"renderer": "svg", "actions": False})
